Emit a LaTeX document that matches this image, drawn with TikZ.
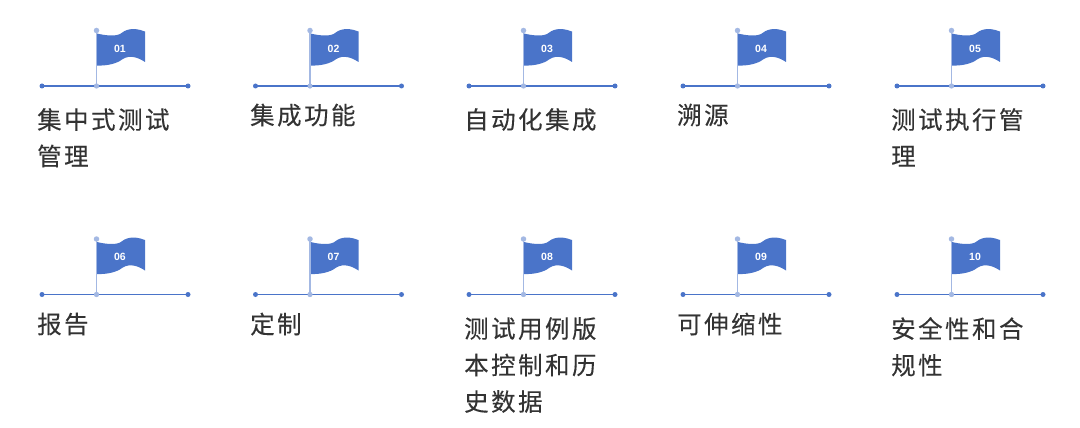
\documentclass[tikz,border=0pt]{standalone}
\usepackage{fontspec}
\setmainfont{Liberation Sans}
\newfontfamily\cjk[LetterSpace=10,FakeBold=0.2]{Noto Sans CJK SC}
\definecolor{flagblue}{HTML}{4A74C9}
\definecolor{polelight}{HTML}{A3B8E3}
\definecolor{txt}{HTML}{333333}
\tikzset{
  enddot/.style={circle,fill=flagblue,draw=none,inner sep=0pt,minimum size=5pt},
  topdot/.style={circle,fill=polelight,draw=none,inner sep=0pt,minimum size=5.5pt},
  basedot/.style={circle,fill=polelight,draw=none,inner sep=0pt,minimum size=5pt},
  baseline rule/.style={draw=flagblue,line width=1.4pt,shorten <=-1pt,shorten >=-1pt},
  pole/.style={draw=polelight,line width=1.4pt,shorten <=-1pt,shorten >=-1pt},
  flagnum/.style={text=white,font=\fontsize{10.5}{12}\selectfont\bfseries,inner sep=0pt},
  lab/.style={anchor=north west,align=left,inner sep=0pt,text=txt,
    font=\fontsize{24.5}{36.5}\selectfont\cjk}
}
% #1 id, #2 x of left end, #3 y of rule, #4 number
\newcommand{\flagunit}[4]{%
  \begin{scope}[shift={(#2,#3)}]
    \fill[flagblue] (55,-52.5) .. controls (63,-50.5) and (73,-49.5) .. (78,-52)
      .. controls (83,-56) and (90,-59.5) .. (103,-54.5)
      -- (103,-24)
      .. controls (97,-28) and (88,-32) .. (80,-26.5)
      .. controls (75,-22.5) and (65,-20) .. (55,-20.5) -- cycle;
    \node[enddot] (l#1) at (0,0) {};
    \node[enddot] (r#1) at (146,0) {};
    \node[basedot] (b#1) at (54.5,0) {};
    \node[topdot] (t#1) at (54.5,-55.5) {};
    \draw[baseline rule] (l#1) -- (r#1);
    \draw[pole] (t#1) -- (b#1);
    \node[basedot] at (b#1) {};
    \node[flagnum] (n#1) at (78,-37.5) {#4};
  \end{scope}}
\begin{document}
\begin{tikzpicture}[x=1pt,y=-1pt]
\useasboundingbox (0,0) rectangle (1080,428);
\flagunit{1}{42}{86}{01}
\flagunit{2}{255.5}{86}{02}
\flagunit{3}{469}{86}{03}
\flagunit{4}{683}{86}{04}
\flagunit{5}{897}{86}{05}
\flagunit{6}{42}{294.5}{06}
\flagunit{7}{255.5}{294.5}{07}
\flagunit{8}{469}{294.5}{08}
\flagunit{9}{683}{294.5}{09}
\flagunit{10}{897}{294.5}{10}
\node[lab] (a1) at (37,108) {集中式测试\\管理};
\node[lab] (a2) at (250,103.5) {集成功能};
\node[lab] (a3) at (464,108) {自动化集成};
\node[lab] (a4) at (677,103.5) {溯源};
\node[lab] (a5) at (891,108) {测试执行管\\理};
\node[lab] (a6) at (37,312.5) {报告};
\node[lab] (a7) at (250,312.5) {定制};
\node[lab] (a8) at (464,317) {测试用例版\\本控制和历\\史数据};
\node[lab] (a9) at (677,312.5) {可伸缩性};
\node[lab] (a10) at (891,317) {安全性和合\\规性};
\end{tikzpicture}
\end{document}
